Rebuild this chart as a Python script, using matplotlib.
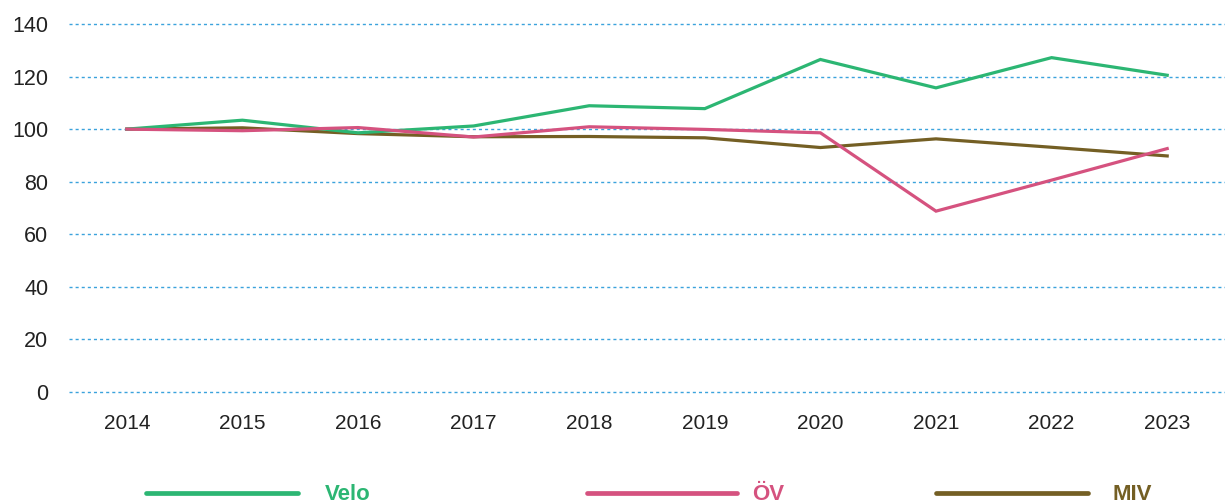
import matplotlib.pyplot as plt
from matplotlib.lines import Line2D

plt.rcParams['font.family'] = ['Liberation Sans', 'DejaVu Sans']

years = [2014, 2015, 2016, 2017, 2018, 2019, 2020, 2021, 2022, 2023]
velo = [100, 103.4, 98.6, 101.2, 108.9, 107.8, 126.5, 115.7, 127.2, 120.5]
oev = [100, 99.4, 100.6, 97.0, 100.9, 99.9, 98.6, 68.8, 80.6, 92.6]
miv = [100, 100.5, 98.3, 97.1, 97.2, 96.7, 93.0, 96.3, 93.1, 89.8]

names = ['Velo', 'ÖV', 'MIV']
series = [velo, oev, miv]
colors = ['#2cb673', '#d5527f', '#745f24']
zorders = [3, 4, 2]

fig = plt.figure(figsize=(12.25, 5.03), dpi=100)
ax = fig.add_axes([0.0563, 0.2207, 0.9437, 0.7316])

for vals, c, z in zip(series, colors, zorders):
    ax.plot(years, vals, color=c, lw=2.3, zorder=z, solid_joinstyle='miter')

ax.set_xlim(2013.5, 2023.5)
ax.set_ylim(0, 140)
ax.set_yticks(range(0, 141, 20))
ax.set_xticks(years)
ax.grid(axis='y', color='#3ba3dc', lw=1.0, linestyle=(0, (2.2, 2.2)))
for gl in ax.get_ygridlines():
    gl.set_clip_on(False)
ax.set_axisbelow(True)
for s in ax.spines.values():
    s.set_visible(False)
ax.tick_params(axis='y', length=0, pad=15, labelsize=15.5, labelcolor='#222222')
ax.tick_params(axis='x', length=0, pad=16, labelsize=15, labelcolor='#222222')

# legend drawn along the bottom edge
leg_line = [(0.119, 0.243), (0.479, 0.602), (0.764, 0.888)]
leg_text = [0.265, 0.614, 0.908]
for name, c, (x0, x1), tx in zip(names, colors, leg_line, leg_text):
    fig.add_artist(Line2D([x0, x1], [0.0199, 0.0199], transform=fig.transFigure,
                          color=c, lw=3.4, solid_capstyle='round'))
    fig.text(tx, 0.006, name, color=c, fontsize=16, fontweight='bold',
             ha='left', va='baseline')

fig.savefig('out.png', dpi=100)
